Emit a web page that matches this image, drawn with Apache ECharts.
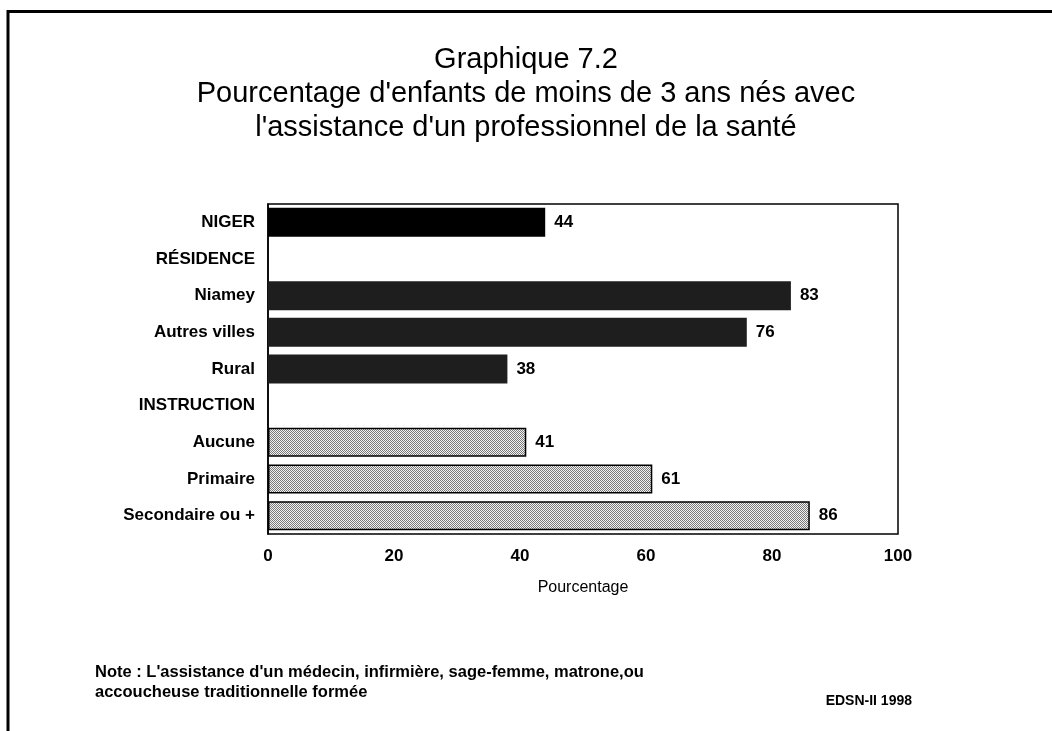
<!DOCTYPE html>
<html>
<head>
<meta charset="utf-8">
<script src="https://cdn.jsdelivr.net/npm/echarts@6/dist/echarts.min.js"></script>
<style>
    html, body { margin: 0; padding: 0; background: #fff; }
    #chart { width: 1052px; height: 731px; }
</style>
</head>
<body>
<div id="chart"></div>
<script>
    // categories top to bottom, '-' = heading rows without a bar
    const categories = ['NIGER', 'RÉSIDENCE', 'Niamey', 'Autres villes', 'Rural', 'INSTRUCTION', 'Aucune', 'Primaire', 'Secondaire ou +'];
    const values = [44, '-', 83, 76, 38, '-', 41, 61, 86];
    const groups = ['total', 'head', 'res', 'res', 'res', 'head', 'edu', 'edu', 'edu'];
    const xTicks = [0, 20, 40, 60, 80, 100];

    const font = 'Liberation Sans, Arial, Helvetica, sans-serif';

    // small canvas pattern to imitate the scanned dotted fill
    function makePattern(dark, light) {
        let c = document.createElement('canvas');
        c.width = 4; c.height = 4;
        let ctx = c.getContext('2d');
        ctx.fillStyle = light;
        ctx.fillRect(0, 0, 4, 4);
        ctx.fillStyle = dark;
        for (let y = 0; y < 4; y++) {
            for (let x = 0; x < 4; x++) {
                if ((x + y) % 2 === 0) ctx.fillRect(x, y, 1, 1);
            }
        }
        return { image: c, repeat: 'repeat' };
    }
    const eduFill = makePattern('#7a7a7a', '#f2f2f2');
    const resFill = '#1e1e1e';

    const fillOf = { total: '#000', res: resFill, edu: eduFill };

    const myChart = echarts.init(document.getElementById('chart'));
    const option = {
        backgroundColor: '#fff',
        animation: false,
        title: {
            text: 'Graphique 7.2\nPourcentage d\'enfants de moins de 3 ans nés avec\nl\'assistance d\'un professionnel de la santé',
            left: 'center',
            top: 38,
            textStyle: { fontFamily: font, fontSize: 29, fontWeight: 'normal', color: '#000', lineHeight: 34 }
        },
        grid: { left: 268, right: 154, top: 204, bottom: 197, show: true, borderColor: '#000', borderWidth: 1.5 },
        xAxis: {
            type: 'value',
            min: 0,
            max: 100,
            interval: 20,
            name: 'Pourcentage',
            nameLocation: 'middle',
            nameGap: 46,
            nameTextStyle: { fontFamily: font, fontSize: 16, color: '#000' },
            axisLine: { show: false },
            axisTick: { show: false },
            splitLine: { show: false },
            axisLabel: {
                margin: 14,
                fontFamily: font, fontSize: 17, fontWeight: 'bold', color: '#000',
                formatter: v => xTicks.indexOf(v) >= 0 ? String(v) : ''
            }
        },
        yAxis: {
            type: 'category',
            inverse: true,
            data: categories,
            axisLine: { show: true, lineStyle: { color: '#000', width: 1.5 } },
            axisTick: { show: false },
            axisLabel: { margin: 13, fontFamily: font, fontSize: 17, fontWeight: 'bold', color: '#000' }
        },
        series: [{
            type: 'bar',
            barCategoryGap: '21%',
            data: values.map((v, i) => ({
                value: v,
                itemStyle: {
                    color: fillOf[groups[i]] || '#000',
                    borderColor: '#000',
                    borderWidth: groups[i] === 'edu' ? 1.5 : 0
                }
            })),
            label: {
                show: true,
                position: 'right',
                distance: 9,
                fontFamily: font, fontSize: 17, fontWeight: 'bold', color: '#000'
            }
        }],
        graphic: [
            { type: 'line', shape: { x1: 8, y1: 11.5, x2: 1052, y2: 11.5 }, style: { stroke: '#000', lineWidth: 3 } },
            { type: 'line', shape: { x1: 8, y1: 10, x2: 8, y2: 731 }, style: { stroke: '#000', lineWidth: 3 } },
            {
                type: 'text', left: 95, top: 662,
                style: {
                    text: 'Note : L\'assistance d\'un médecin, infirmière, sage-femme, matrone,ou\naccoucheuse traditionnelle formée',
                    font: 'bold 16.5px ' + font, fill: '#000', lineHeight: 20
                }
            },
            {
                type: 'text', right: 140, top: 694,
                style: { text: 'EDSN-II 1998', font: 'bold 14px ' + font, fill: '#000' }
            }
        ]
    };
    myChart.setOption(option);
</script>
</body>
</html>
